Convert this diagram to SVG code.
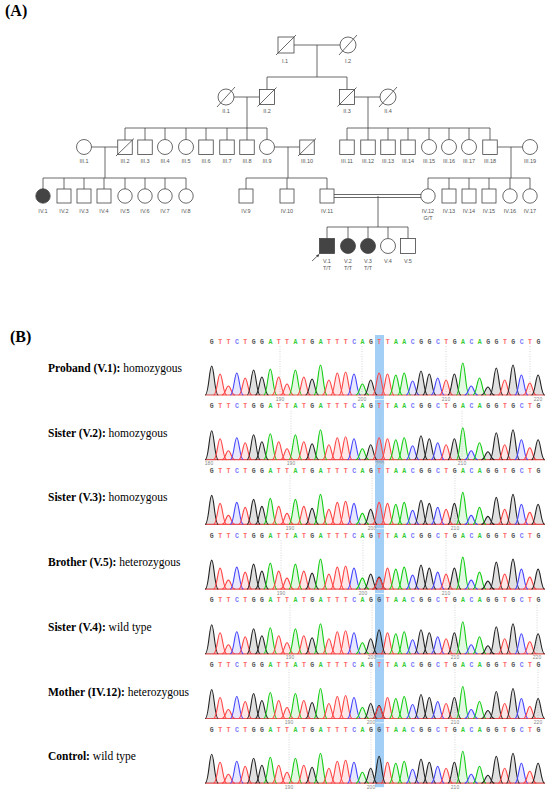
<svg xmlns="http://www.w3.org/2000/svg" xmlns:xlink="http://www.w3.org/1999/xlink" width="550" height="793" viewBox="0 0 550 793">
<style>
.ln{stroke:#444;stroke-width:0.8;fill:none}
.sh{fill:#fff;stroke:#444;stroke-width:0.8}
.af{fill:#444;stroke:#444;stroke-width:0.8}
.lb{font-family:"Liberation Sans",Arial,sans-serif;font-size:5.5px;fill:#555;text-anchor:middle}
.hd{font-family:"Liberation Serif","Times New Roman",serif;font-weight:bold;font-size:16px;fill:#000}
.cap{font-family:"Liberation Serif","Times New Roman",serif;font-size:11.5px;fill:#000}
.sq{font-family:"Liberation Mono","Courier New",monospace;font-size:6.5px;font-weight:bold;letter-spacing:4.47px}
.lg{fill:#555}.lt{fill:#f66}.lc{fill:#77f}.la{fill:#3c3}
.pg{stroke:#222;fill:rgba(0,0,0,0.12)}
.pt{stroke:#f44;fill:rgba(255,60,60,0.12)}
.pc{stroke:#44f;fill:rgba(60,60,255,0.12)}
.pa{stroke:#1c1;fill:rgba(20,200,20,0.12)}
.pk{stroke-width:1.1}
.bl{stroke:#e55;stroke-width:1.2}
.hl{fill:#a3cff6}
.gd{stroke:#bbb;stroke-width:0.6;stroke-dasharray:1 1.5}
.nm{font-family:"Liberation Sans",Arial,sans-serif;font-size:5px;fill:#888;text-anchor:middle}
</style>
<defs>
<marker id="ar" viewBox="0 0 6 6" refX="5" refY="3" markerWidth="4" markerHeight="4" orient="auto"><path d="M0,0 L6,3 L0,6 z" fill="#444"/></marker>
<path id="pk" class="pk" d="M-6.5,0 C-3,0 -2.3,-1 0,-1 C2.3,-1 3,0 6.5,0" vector-effect="non-scaling-stroke"/>
<g id="trace">
<line class="bl" x1="205" y1="0" x2="545" y2="0"/>
<use href="#pk" class="pg" transform="translate(211.7,0) scale(1,29)"/>
<use href="#pk" class="pt" transform="translate(220.1,0) scale(1,21)"/>
<use href="#pk" class="pt" transform="translate(228.4,0) scale(1,9)"/>
<use href="#pk" class="pc" transform="translate(236.8,0) scale(1,22)"/>
<use href="#pk" class="pt" transform="translate(245.2,0) scale(1,17)"/>
<use href="#pk" class="pg" transform="translate(253.6,0) scale(1,25)"/>
<use href="#pk" class="pg" transform="translate(261.9,0) scale(1,18)"/>
<use href="#pk" class="pa" transform="translate(270.3,0) scale(1,26)"/>
<use href="#pk" class="pt" transform="translate(278.7,0) scale(1,18)"/>
<use href="#pk" class="pt" transform="translate(287,0) scale(1,11)"/>
<use href="#pk" class="pa" transform="translate(295.4,0) scale(1,25)"/>
<use href="#pk" class="pt" transform="translate(303.8,0) scale(1,18)"/>
<use href="#pk" class="pg" transform="translate(312.1,0) scale(1,16)"/>
<use href="#pk" class="pa" transform="translate(320.5,0) scale(1,30)"/>
<use href="#pk" class="pt" transform="translate(328.9,0) scale(1,15)"/>
<use href="#pk" class="pt" transform="translate(337.3,0) scale(1,22)"/>
<use href="#pk" class="pt" transform="translate(345.6,0) scale(1,23)"/>
<use href="#pk" class="pc" transform="translate(354,0) scale(1,21)"/>
<use href="#pk" class="pa" transform="translate(362.4,0) scale(1,11)"/>
<use href="#pk" class="pg" transform="translate(370.7,0) scale(1,15)"/>
<use href="#pk" class="pt" transform="translate(387.5,0) scale(1,21)"/>
<use href="#pk" class="pa" transform="translate(395.8,0) scale(1,20)"/>
<use href="#pk" class="pa" transform="translate(404.2,0) scale(1,22)"/>
<use href="#pk" class="pc" transform="translate(412.6,0) scale(1,14)"/>
<use href="#pk" class="pg" transform="translate(421,0) scale(1,24)"/>
<use href="#pk" class="pg" transform="translate(429.3,0) scale(1,21)"/>
<use href="#pk" class="pc" transform="translate(437.7,0) scale(1,17)"/>
<use href="#pk" class="pt" transform="translate(446.1,0) scale(1,15)"/>
<use href="#pk" class="pg" transform="translate(454.4,0) scale(1,21)"/>
<use href="#pk" class="pa" transform="translate(462.8,0) scale(1,32)"/>
<use href="#pk" class="pc" transform="translate(471.2,0) scale(1,9)"/>
<use href="#pk" class="pa" transform="translate(479.5,0) scale(1,17)"/>
<use href="#pk" class="pg" transform="translate(487.9,0) scale(1,8)"/>
<use href="#pk" class="pg" transform="translate(496.3,0) scale(1,27)"/>
<use href="#pk" class="pt" transform="translate(504.7,0) scale(1,15)"/>
<use href="#pk" class="pg" transform="translate(513,0) scale(1,30)"/>
<use href="#pk" class="pc" transform="translate(521.4,0) scale(1,20)"/>
<use href="#pk" class="pt" transform="translate(529.8,0) scale(1,12)"/>
<use href="#pk" class="pg" transform="translate(538.1,0) scale(1,20)"/>
</g>
</defs>
<rect width="550" height="793" fill="#fff"/>
<text class="hd" x="5" y="16">(A)</text>
<text class="hd" x="10" y="341.5">(B)</text>

<g id="connectors">
<path class="ln" d="M294,45H340 M317,45V77 M267,77H347 M267,77V89.5 M347,77V89.5"/>
<path class="ln" d="M234,97H259.5 M247,97V128 M354.5,97H380 M368,97V128"/>
<path class="ln" d="M125,128H267 M125,128V140 M145,128V140 M165,128V139.5 M186,128V139.5 M206,128V140 M227,128V140 M247,128V140 M267,128V139.5"/>
<path class="ln" d="M347,128H490 M347,128V140 M368,128V140 M388,128V140 M408,128V140 M429,128V139.5 M449,128V139.5 M469,128V139.5 M490,128V140"/>
<path class="ln" d="M91.5,147H117.75 M105,147V178 M274.5,147H299.75 M288,147V178 M497.25,147H522.5 M511,147V178"/>
<path class="ln" d="M43,178H186 M43,178V189 M64,178V189 M84,178V189 M104,178V189 M125,178V189 M145,178V189 M165,178V189 M186,178V189"/>
<path class="ln" d="M246,178H327 M246,178V189 M287,178V189 M327,178V189"/>
<path class="ln" d="M428,178H530 M428,178V189 M449,178V189 M469,178V189 M489,178V189 M510,178V189 M530,178V189"/>
<path class="ln" d="M334,194.5H421 M334,197.5H421 M378,196V227"/>
<path class="ln" d="M327,227H408 M327,227V238.5 M348,227V238.5 M368,227V238.5 M388,227V238.5 M408,227V238.5"/>
<line class="ln" x1="312" y1="261" x2="319" y2="254.5" marker-end="url(#ar)"/>
</g>

<g id="I1"><rect class="sh" x="278" y="37" width="16" height="16"/><line class="ln" x1="276" y1="55" x2="296" y2="35"/><text class="lb" x="285" y="62.5">I.1</text></g>
<g id="I2"><circle class="sh" cx="348" cy="45" r="8"/><line class="ln" x1="339" y1="55" x2="357" y2="35"/><text class="lb" x="348" y="62.5">I.2</text></g>

<g id="II1"><circle class="sh" cx="226" cy="97" r="8"/><line class="ln" x1="217" y1="107" x2="235" y2="87"/><text class="lb" x="226" y="113">II.1</text></g>
<g id="II2"><rect class="sh" x="259.5" y="89.5" width="15" height="15"/><line class="ln" x1="257.5" y1="106.5" x2="276.5" y2="87.5"/><text class="lb" x="267" y="113">II.2</text></g>
<g id="II3"><rect class="sh" x="339.5" y="89.5" width="15" height="15"/><line class="ln" x1="337.5" y1="106.5" x2="356.5" y2="87.5"/><text class="lb" x="347" y="113">II.3</text></g>
<g id="II4"><circle class="sh" cx="388" cy="97" r="8"/><line class="ln" x1="379" y1="107" x2="397" y2="87"/><text class="lb" x="388" y="113">II.4</text></g>

<g id="III1"><circle class="sh" cx="84" cy="147" r="7.5"/><text class="lb" x="84" y="163">III.1</text></g>
<g id="III2"><rect class="sh" x="117.75" y="140" width="14.5" height="14.5"/><line class="ln" x1="116" y1="156" x2="134" y2="138.5"/><text class="lb" x="125" y="163">III.2</text></g>
<g id="III3"><rect class="sh" x="137.75" y="140" width="14.5" height="14.5"/><text class="lb" x="145" y="163">III.3</text></g>
<g id="III4"><circle class="sh" cx="165" cy="147" r="7.5"/><text class="lb" x="165" y="163">III.4</text></g>
<g id="III5"><circle class="sh" cx="186" cy="147" r="7.5"/><text class="lb" x="186" y="163">III.5</text></g>
<g id="III6"><rect class="sh" x="198.75" y="140" width="14.5" height="14.5"/><text class="lb" x="206" y="163">III.6</text></g>
<g id="III7"><rect class="sh" x="219.75" y="140" width="14.5" height="14.5"/><text class="lb" x="227" y="163">III.7</text></g>
<g id="III8"><rect class="sh" x="239.75" y="140" width="14.5" height="14.5"/><text class="lb" x="247" y="163">III.8</text></g>
<g id="III9"><circle class="sh" cx="267" cy="147" r="7.5"/><text class="lb" x="267" y="163">III.9</text></g>
<g id="III10"><rect class="sh" x="299.75" y="140" width="14.5" height="14.5"/><line class="ln" x1="298" y1="156" x2="316" y2="138.5"/><text class="lb" x="307" y="163">III.10</text></g>
<g id="III11"><rect class="sh" x="339.75" y="140" width="14.5" height="14.5"/><text class="lb" x="347" y="163">III.11</text></g>
<g id="III12"><rect class="sh" x="360.75" y="140" width="14.5" height="14.5"/><text class="lb" x="368" y="163">III.12</text></g>
<g id="III13"><rect class="sh" x="380.75" y="140" width="14.5" height="14.5"/><text class="lb" x="388" y="163">III.13</text></g>
<g id="III14"><rect class="sh" x="400.75" y="140" width="14.5" height="14.5"/><text class="lb" x="408" y="163">III.14</text></g>
<g id="III15"><circle class="sh" cx="429" cy="147" r="7.5"/><text class="lb" x="429" y="163">III.15</text></g>
<g id="III16"><circle class="sh" cx="449" cy="147" r="7.5"/><text class="lb" x="449" y="163">III.16</text></g>
<g id="III17"><circle class="sh" cx="469" cy="147" r="7.5"/><text class="lb" x="469" y="163">III.17</text></g>
<g id="III18"><rect class="sh" x="482.75" y="140" width="14.5" height="14.5"/><text class="lb" x="490" y="163">III.18</text></g>
<g id="III19"><circle class="sh" cx="530" cy="147" r="7.5"/><text class="lb" x="530" y="163">III.19</text></g>

<g id="IV1"><circle class="af" cx="43" cy="196" r="7.2"/><text class="lb" x="43" y="213">IV.1</text></g>
<g id="IV2"><rect class="sh" x="57" y="189" width="14" height="14"/><text class="lb" x="64" y="213">IV.2</text></g>
<g id="IV3"><rect class="sh" x="77" y="189" width="14" height="14"/><text class="lb" x="84" y="213">IV.3</text></g>
<g id="IV4"><rect class="sh" x="97" y="189" width="14" height="14"/><text class="lb" x="104" y="213">IV.4</text></g>
<g id="IV5"><circle class="sh" cx="125" cy="196" r="7.2"/><text class="lb" x="125" y="213">IV.5</text></g>
<g id="IV6"><circle class="sh" cx="145" cy="196" r="7.2"/><text class="lb" x="145" y="213">IV.6</text></g>
<g id="IV7"><circle class="sh" cx="165" cy="196" r="7.2"/><text class="lb" x="165" y="213">IV.7</text></g>
<g id="IV8"><circle class="sh" cx="186" cy="196" r="7.2"/><text class="lb" x="186" y="213">IV.8</text></g>
<g id="IV9"><rect class="sh" x="239" y="189" width="14" height="14"/><text class="lb" x="246" y="213">IV.9</text></g>
<g id="IV10"><rect class="sh" x="280" y="189" width="14" height="14"/><text class="lb" x="287" y="213">IV.10</text></g>
<g id="IV11"><rect class="sh" x="320" y="189" width="14" height="14"/><text class="lb" x="327" y="213">IV.11</text></g>
<g id="IV12"><circle class="sh" cx="428" cy="196" r="7.2"/><text class="lb" x="428" y="213">IV.12</text><text class="lb" x="428" y="219.5">G/T</text></g>
<g id="IV13"><rect class="sh" x="442" y="189" width="14" height="14"/><text class="lb" x="449" y="213">IV.13</text></g>
<g id="IV14"><rect class="sh" x="462" y="189" width="14" height="14"/><text class="lb" x="469" y="213">IV.14</text></g>
<g id="IV15"><rect class="sh" x="482" y="189" width="14" height="14"/><text class="lb" x="489" y="213">IV.15</text></g>
<g id="IV16"><circle class="sh" cx="510" cy="196" r="7.2"/><text class="lb" x="510" y="213">IV.16</text></g>
<g id="IV17"><circle class="sh" cx="530" cy="196" r="7.2"/><text class="lb" x="530" y="213">IV.17</text></g>

<g id="V1"><rect class="af" x="319.5" y="238.5" width="15" height="15"/><text class="lb" x="327" y="263">V.1</text><text class="lb" x="327" y="269.5">T/T</text></g>
<g id="V2"><circle class="af" cx="348" cy="246" r="7.5"/><text class="lb" x="348" y="263">V.2</text><text class="lb" x="348" y="269.5">T/T</text></g>
<g id="V3"><circle class="af" cx="368" cy="246" r="7.5"/><text class="lb" x="368" y="263">V.3</text><text class="lb" x="368" y="269.5">T/T</text></g>
<g id="V4"><circle class="sh" cx="388" cy="246" r="7.5"/><text class="lb" x="388" y="263">V.4</text></g>
<g id="V5"><rect class="sh" x="400.5" y="238.5" width="15" height="15"/><text class="lb" x="408" y="263">V.5</text></g>

<g id="panel1">
<text class="cap" x="48" y="372"><tspan font-weight="bold">Proband (V.1):</tspan> homozygous</text>
<rect class="hl" x="375" y="335" width="9" height="64"/>
<path class="gd" d="M280,346V395 M362,346V395 M446,346V395 M530,346V395"/>
<text class="sq" x="209.75" y="343.5"><tspan class="lg">G</tspan><tspan class="lt">TT</tspan><tspan class="lc">C</tspan><tspan class="lt">T</tspan><tspan class="lg">GG</tspan><tspan class="la">A</tspan><tspan class="lt">TT</tspan><tspan class="la">A</tspan><tspan class="lt">T</tspan><tspan class="lg">G</tspan><tspan class="la">A</tspan><tspan class="lt">TTT</tspan><tspan class="lc">C</tspan><tspan class="la">A</tspan><tspan class="lg">G</tspan><tspan class="lt">T</tspan><tspan class="lt">T</tspan><tspan class="la">AA</tspan><tspan class="lc">C</tspan><tspan class="lg">GG</tspan><tspan class="lc">C</tspan><tspan class="lt">T</tspan><tspan class="lg">G</tspan><tspan class="la">A</tspan><tspan class="lc">C</tspan><tspan class="la">A</tspan><tspan class="lg">GG</tspan><tspan class="lt">T</tspan><tspan class="lg">G</tspan><tspan class="lc">C</tspan><tspan class="lt">T</tspan><tspan class="lg">G</tspan></text>
<use href="#trace" transform="translate(0,395)"/>
<use href="#pk" class="pt" transform="translate(379.1,395) scale(1,22)"/>
<text class="nm" x="280" y="400.5">190</text><text class="nm" x="362" y="400.5">200</text><text class="nm" x="446" y="400.5">210</text><text class="nm" x="538" y="400.5">220</text>
</g>

<g id="panel2" transform="translate(0,64.7)">
<text class="cap" x="48" y="372"><tspan font-weight="bold">Sister (V.2):</tspan> homozygous</text>
<rect class="hl" x="375" y="335" width="9" height="64"/>
<path class="gd" d="M291,346V395 M380,346V395 M462,346V395"/>
<text class="sq" x="209.75" y="343.5"><tspan class="lg">G</tspan><tspan class="lt">TT</tspan><tspan class="lc">C</tspan><tspan class="lt">T</tspan><tspan class="lg">GG</tspan><tspan class="la">A</tspan><tspan class="lt">TT</tspan><tspan class="la">A</tspan><tspan class="lt">T</tspan><tspan class="lg">G</tspan><tspan class="la">A</tspan><tspan class="lt">TTT</tspan><tspan class="lc">C</tspan><tspan class="la">A</tspan><tspan class="lg">G</tspan><tspan class="lt">T</tspan><tspan class="lt">T</tspan><tspan class="la">AA</tspan><tspan class="lc">C</tspan><tspan class="lg">GG</tspan><tspan class="lc">C</tspan><tspan class="lt">T</tspan><tspan class="lg">G</tspan><tspan class="la">A</tspan><tspan class="lc">C</tspan><tspan class="la">A</tspan><tspan class="lg">GG</tspan><tspan class="lt">T</tspan><tspan class="lg">G</tspan><tspan class="lc">C</tspan><tspan class="lt">T</tspan><tspan class="lg">G</tspan></text>
<use href="#trace" transform="translate(0,395)"/>
<use href="#pk" class="pt" transform="translate(379.1,395) scale(1,22)"/>
<text class="nm" x="209" y="400.5">180</text><text class="nm" x="291" y="400.5">190</text><text class="nm" x="380" y="400.5">200</text><text class="nm" x="462" y="400.5">210</text>
</g>

<g id="panel3" transform="translate(0,129.4)">
<text class="cap" x="48" y="372"><tspan font-weight="bold">Sister (V.3):</tspan> homozygous</text>
<rect class="hl" x="375" y="335" width="9" height="64"/>
<path class="gd" d="M290,346V395 M372,346V395 M455,346V395"/>
<text class="sq" x="209.75" y="343.5"><tspan class="lg">G</tspan><tspan class="lt">TT</tspan><tspan class="lc">C</tspan><tspan class="lt">T</tspan><tspan class="lg">GG</tspan><tspan class="la">A</tspan><tspan class="lt">TT</tspan><tspan class="la">A</tspan><tspan class="lt">T</tspan><tspan class="lg">G</tspan><tspan class="la">A</tspan><tspan class="lt">TTT</tspan><tspan class="lc">C</tspan><tspan class="la">A</tspan><tspan class="lg">G</tspan><tspan class="lt">T</tspan><tspan class="lt">T</tspan><tspan class="la">AA</tspan><tspan class="lc">C</tspan><tspan class="lg">GG</tspan><tspan class="lc">C</tspan><tspan class="lt">T</tspan><tspan class="lg">G</tspan><tspan class="la">A</tspan><tspan class="lc">C</tspan><tspan class="la">A</tspan><tspan class="lg">GG</tspan><tspan class="lt">T</tspan><tspan class="lg">G</tspan><tspan class="lc">C</tspan><tspan class="lt">T</tspan><tspan class="lg">G</tspan></text>
<use href="#trace" transform="translate(0,395)"/>
<use href="#pk" class="pt" transform="translate(379.1,395) scale(1,22)"/>
<text class="nm" x="290" y="400.5">190</text><text class="nm" x="372" y="400.5">200</text><text class="nm" x="455" y="400.5">210</text>
</g>

<g id="panel4" transform="translate(0,194.1)">
<text class="cap" x="48" y="372"><tspan font-weight="bold">Brother (V.5):</tspan> heterozygous</text>
<rect class="hl" x="375" y="335" width="9" height="64"/>
<path class="gd" d="M281,346V395 M363,346V395 M446,346V395"/>
<text class="sq" x="209.75" y="343.5"><tspan class="lg">G</tspan><tspan class="lt">TT</tspan><tspan class="lc">C</tspan><tspan class="lt">T</tspan><tspan class="lg">GG</tspan><tspan class="la">A</tspan><tspan class="lt">TT</tspan><tspan class="la">A</tspan><tspan class="lt">T</tspan><tspan class="lg">G</tspan><tspan class="la">A</tspan><tspan class="lt">TTT</tspan><tspan class="lc">C</tspan><tspan class="la">A</tspan><tspan class="lg">G</tspan><tspan class="lt">T</tspan><tspan class="lt">T</tspan><tspan class="la">AA</tspan><tspan class="lc">C</tspan><tspan class="lg">GG</tspan><tspan class="lc">C</tspan><tspan class="lt">T</tspan><tspan class="lg">G</tspan><tspan class="la">A</tspan><tspan class="lc">C</tspan><tspan class="la">A</tspan><tspan class="lg">GG</tspan><tspan class="lt">T</tspan><tspan class="lg">G</tspan><tspan class="lc">C</tspan><tspan class="lt">T</tspan><tspan class="lg">G</tspan></text>
<use href="#trace" transform="translate(0,395)"/>
<use href="#pk" class="pg" transform="translate(379.1,395) scale(1,12)"/>
<use href="#pk" class="pt" transform="translate(379.1,395) scale(1,11)"/>
<text class="nm" x="281" y="400.5">190</text><text class="nm" x="363" y="400.5">200</text><text class="nm" x="446" y="400.5">210</text>
</g>

<g id="panel5" transform="translate(0,258.8)">
<text class="cap" x="48" y="372"><tspan font-weight="bold">Sister (V.4):</tspan> wild type</text>
<rect class="hl" x="375" y="335" width="9" height="64"/>
<path class="gd" d="M290,346V395 M372,346V395 M455,346V395 M537,346V395"/>
<text class="sq" x="209.75" y="343.5"><tspan class="lg">G</tspan><tspan class="lt">TT</tspan><tspan class="lc">C</tspan><tspan class="lt">T</tspan><tspan class="lg">GG</tspan><tspan class="la">A</tspan><tspan class="lt">TT</tspan><tspan class="la">A</tspan><tspan class="lt">T</tspan><tspan class="lg">G</tspan><tspan class="la">A</tspan><tspan class="lt">TTT</tspan><tspan class="lc">C</tspan><tspan class="la">A</tspan><tspan class="lg">G</tspan><tspan class="lg">G</tspan><tspan class="lt">T</tspan><tspan class="la">AA</tspan><tspan class="lc">C</tspan><tspan class="lg">GG</tspan><tspan class="lc">C</tspan><tspan class="lt">T</tspan><tspan class="lg">G</tspan><tspan class="la">A</tspan><tspan class="lc">C</tspan><tspan class="la">A</tspan><tspan class="lg">GG</tspan><tspan class="lt">T</tspan><tspan class="lg">G</tspan><tspan class="lc">C</tspan><tspan class="lt">T</tspan><tspan class="lg">G</tspan></text>
<use href="#trace" transform="translate(0,395)"/>
<use href="#pk" class="pg" transform="translate(379.1,395) scale(1,24)"/>
<text class="nm" x="290" y="400.5">190</text><text class="nm" x="372" y="400.5">200</text><text class="nm" x="455" y="400.5">210</text><text class="nm" x="537" y="400.5">220</text>
</g>

<g id="panel6" transform="translate(0,323.5)">
<text class="cap" x="48" y="372"><tspan font-weight="bold">Mother (IV.12):</tspan> heterozygous</text>
<rect class="hl" x="375" y="335" width="9" height="64"/>
<path class="gd" d="M289,346V395 M371,346V395 M455,346V395 M538,346V395"/>
<text class="sq" x="209.75" y="343.5"><tspan class="lg">G</tspan><tspan class="lt">TT</tspan><tspan class="lc">C</tspan><tspan class="lt">T</tspan><tspan class="lg">GG</tspan><tspan class="la">A</tspan><tspan class="lt">TT</tspan><tspan class="la">A</tspan><tspan class="lt">T</tspan><tspan class="lg">G</tspan><tspan class="la">A</tspan><tspan class="lt">TTT</tspan><tspan class="lc">C</tspan><tspan class="la">A</tspan><tspan class="lg">G</tspan><tspan class="lt">T</tspan><tspan class="lt">T</tspan><tspan class="la">AA</tspan><tspan class="lc">C</tspan><tspan class="lg">GG</tspan><tspan class="lc">C</tspan><tspan class="lt">T</tspan><tspan class="lg">G</tspan><tspan class="la">A</tspan><tspan class="lc">C</tspan><tspan class="la">A</tspan><tspan class="lg">GG</tspan><tspan class="lt">T</tspan><tspan class="lg">G</tspan><tspan class="lc">C</tspan><tspan class="lt">T</tspan><tspan class="lg">G</tspan></text>
<use href="#trace" transform="translate(0,395)"/>
<use href="#pk" class="pg" transform="translate(379.1,395) scale(1,13)"/>
<use href="#pk" class="pt" transform="translate(379.1,395) scale(1,12)"/>
<text class="nm" x="289" y="400.5">190</text><text class="nm" x="371" y="400.5">200</text><text class="nm" x="455" y="400.5">210</text><text class="nm" x="538" y="400.5">220</text>
</g>

<g id="panel7" transform="translate(0,388.2)">
<text class="cap" x="48" y="372"><tspan font-weight="bold">Control:</tspan> wild type</text>
<rect class="hl" x="375" y="335" width="9" height="64"/>
<path class="gd" d="M289,346V395 M371,346V395 M455,346V395"/>
<text class="sq" x="209.75" y="343.5"><tspan class="lg">G</tspan><tspan class="lt">TT</tspan><tspan class="lc">C</tspan><tspan class="lt">T</tspan><tspan class="lg">GG</tspan><tspan class="la">A</tspan><tspan class="lt">TT</tspan><tspan class="la">A</tspan><tspan class="lt">T</tspan><tspan class="lg">G</tspan><tspan class="la">A</tspan><tspan class="lt">TTT</tspan><tspan class="lc">C</tspan><tspan class="la">A</tspan><tspan class="lg">G</tspan><tspan class="lg">G</tspan><tspan class="lt">T</tspan><tspan class="la">AA</tspan><tspan class="lc">C</tspan><tspan class="lg">GG</tspan><tspan class="lc">C</tspan><tspan class="lt">T</tspan><tspan class="lg">G</tspan><tspan class="la">A</tspan><tspan class="lc">C</tspan><tspan class="la">A</tspan><tspan class="lg">GG</tspan><tspan class="lt">T</tspan><tspan class="lg">G</tspan><tspan class="lc">C</tspan><tspan class="lt">T</tspan><tspan class="lg">G</tspan></text>
<use href="#trace" transform="translate(0,395)"/>
<use href="#pk" class="pg" transform="translate(379.1,395) scale(1,27)"/>
<text class="nm" x="289" y="400.5">190</text><text class="nm" x="371" y="400.5">200</text><text class="nm" x="455" y="400.5">210</text>
</g>
</svg>
